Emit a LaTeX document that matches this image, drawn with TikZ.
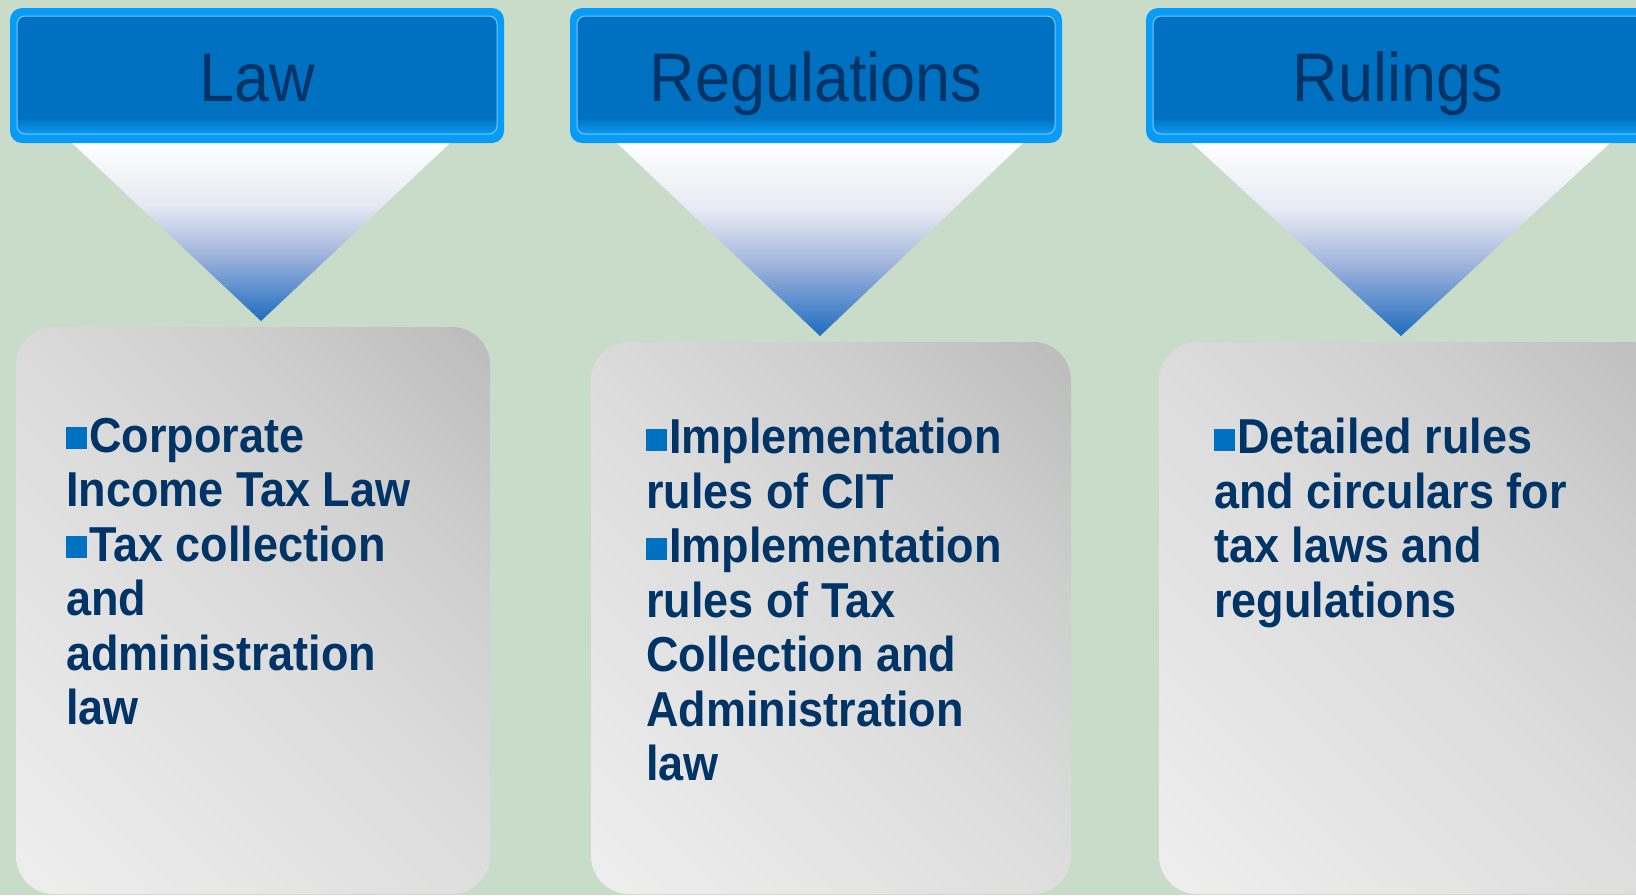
\documentclass[tikz,border=0pt]{standalone}
\usepackage{fontspec}
\setmainfont{Liberation Sans}
\usepackage{graphicx}
\definecolor{bg}{HTML}{C9DCC9}
\definecolor{navy}{HTML}{003366}
\definecolor{hdrbase}{HTML}{0070C0}
\definecolor{hdrlight}{HTML}{0A9BF2}
\definecolor{hdrrim}{HTML}{089CF6}
\definecolor{hdrline}{HTML}{7CC6F8}
\definecolor{tribot}{HTML}{1E6CC0}
\definecolor{trimid}{HTML}{A9B9DE}
\definecolor{trihigh}{HTML}{E6E9F3}
\definecolor{bodydark}{HTML}{BCBCBC}
\definecolor{bodymid}{HTML}{DCDCDC}
\definecolor{bodymid2}{HTML}{CECECE}
\definecolor{bodylight}{HTML}{EEEEEE}
\definecolor{bulletblue}{HTML}{0070C0}
\pgfdeclareverticalshading{hdrshade}{100bp}{color(0bp)=(hdrlight); color(25bp)=(hdrlight); color(32bp)=(hdrbase); color(100bp)=(hdrbase)}
\pgfdeclareverticalshading{trishade}{100bp}{color(0bp)=(tribot); color(25bp)=(tribot); color(45bp)=(trimid); color(57.5bp)=(trihigh); color(75bp)=(white); color(100bp)=(white)}
\pgfdeclareverticalshading{bodyshade}{100bp}{color(0bp)=(bodylight); color(15bp)=(bodylight); color(50bp)=(bodymid); color(68bp)=(bodymid2); color(85bp)=(bodydark); color(100bp)=(bodydark)}
\newcommand{\sqbul}{{\color{bulletblue}\rule[0.06em]{0.47em}{0.45em}}\hspace{0.04em}}
\newcommand{\bodytext}[1]{\scalebox{1}[1.09]{\parbox[t]{520pt}{\raggedright #1}}}
\tikzset{
  hdrtxt/.style={inner sep=0, text=navy, font=\fontsize{63}{70}\selectfont},
  bodytxt/.style={inner sep=0, text=navy, font=\fontsize{45}{50}\selectfont\bfseries},
  hdrrimstyle/.style={fill=hdrrim, rounded corners=12},
  hdrinner/.style={shading=hdrshade, draw=hdrline, line width=1, rounded corners=8},
  tristyle/.style={shading=trishade},
  bodybox/.style={shading=bodyshade, shading angle=-45, rounded corners=38}
}
\begin{document}
\begin{tikzpicture}[x=1pt, y=-1pt]
\useasboundingbox (0,0) rectangle (1636,895);
\fill[bg] (0,0) rectangle (1636,895);
% triangles
\shade[tristyle] (72,143) -- (450,143) -- (261,321) -- cycle;
\shade[tristyle] (617,143) -- (1023,143) -- (820,336) -- cycle;
\shade[tristyle] (1192,143) -- (1610,143) -- (1401,336) -- cycle;
% headers
\fill[hdrrimstyle] (10,8) rectangle (504,143);
\shadedraw[hdrinner] (17,16) rectangle (497,134);
\fill[hdrrimstyle] (570,8) rectangle (1062,143);
\shadedraw[hdrinner] (577,16) rectangle (1055,134);
\fill[hdrrimstyle] (1146,8) rectangle (1650,143);
\shadedraw[hdrinner] (1153,16) rectangle (1643,134);
\node[hdrtxt, anchor=base] (lawhdr) at (257,101) {\scalebox{1}[1.09]{Law}};
\node[hdrtxt, anchor=base] (reghdr) at (816,101) {\scalebox{1}[1.09]{Regulations}};
\node[hdrtxt, anchor=base] (rulhdr) at (1398,101) {\scalebox{1}[1.09]{Rulings}};
% bodies
\shade[bodybox] (16,327) rectangle (490,894);
\shade[bodybox] (591,342) rectangle (1071,894);
\shade[bodybox] (1159,342) rectangle (1690,894);
\node[bodytxt, anchor=base west] (lawtxt) at (66,418) {\bodytext{\sqbul Corporate\\Income Tax Law\\\sqbul Tax collection\\and\\administration\\law}};
\node[bodytxt, anchor=base west] (regtxt) at (646,418) {\bodytext{\sqbul Implementation\\rules of CIT\\\sqbul Implementation\\rules of Tax\\Collection and\\Administration\\law}};
\node[bodytxt, anchor=base west] (rultxt) at (1214,418) {\bodytext{\sqbul Detailed rules\\and circulars for\\tax laws and\\regulations}};
\end{tikzpicture}
\end{document}
